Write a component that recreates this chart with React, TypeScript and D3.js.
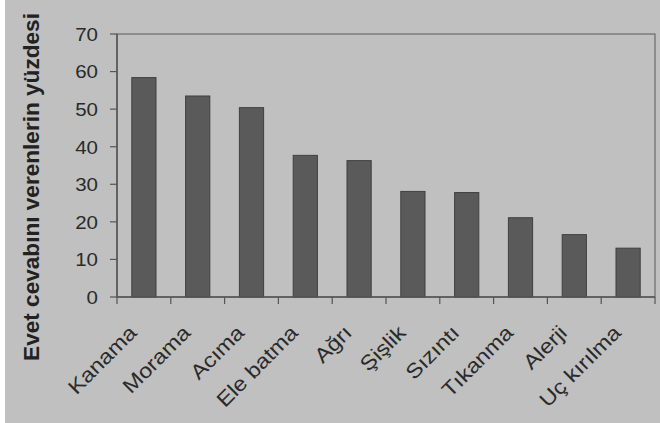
import React from "react";
import * as d3 from "d3";

const categories = ["Kanama", "Morama", "Acıma", "Ele batma", "Ağrı", "Şişlik", "Sızıntı", "Tıkanma", "Alerji", "Uç kırılma"];
const values = [58.4, 53.5, 50.4, 37.7, 36.3, 28.1, 27.8, 21.1, 16.6, 13.0];
const yTicks = [0, 10, 20, 30, 40, 50, 60, 70];
const yTitle = "Evet cevabını verenlerin yüzdesi";

const W = 660;
const H = 423;
const left = 117;
const right = 655;
const top = 34;
const bottom = 297;

export default function App() {
  const x = d3.scaleBand<string>().domain(categories).range([left, right]).paddingInner(0.55).paddingOuter(0.275);
  const xb = d3.scaleBand<string>().domain(categories).range([left, right]);
  const y = d3.scaleLinear().domain([0, 70]).range([bottom, top]);
  const bounds = xb.domain().map((c) => xb(c)!).concat([right]);
  const font = "'Liberation Sans', Arial, sans-serif";
  return (
    <div style={{ position: "fixed", left: 0, top: 0 }}>
      <svg width={W} height={H} style={{ display: "block" }}>
        <rect x={0} y={0} width={W} height={H} fill="#ffffff" />
        <rect x={5} y={0} width={W - 5} height={H} fill="#c0c0c0" />
        <rect x={left} y={top} width={right - left} height={bottom - top} fill="none" stroke="#6a6a6a" strokeWidth={1.2} />
        {categories.map((c, i) => (
          <rect
            key={c}
            x={x(c)!}
            y={y(values[i])}
            width={x.bandwidth()}
            height={bottom - y(values[i])}
            fill="#5a5a5a"
            stroke="#404040"
            strokeWidth={1}
          />
        ))}
        <line x1={left} x2={right} y1={bottom} y2={bottom} stroke="#555" strokeWidth={1.5} />
        <line x1={left} x2={left} y1={top} y2={bottom} stroke="#555" strokeWidth={1.5} />
        {yTicks.map((t) => (
          <g key={t}>
            <line x1={left - 7} x2={left} y1={y(t)} y2={y(t)} stroke="#555" strokeWidth={1.2} />
            <text x={98} y={y(t)} dy="0.36em" textAnchor="end" fontFamily={font} fontSize={19} fill="#2a2a2a" transform={`translate(98,0) scale(1.08,1) translate(-98,0)`}>
              {t}
            </text>
          </g>
        ))}
        {bounds.map((b, i) => (
          <line key={i} x1={b} x2={b} y1={bottom} y2={bottom + 7} stroke="#555" strokeWidth={1.2} />
        ))}
        {categories.map((c) => {
          const cx = xb(c)! + xb.bandwidth() / 2 - 6;
          const cy = 334;
          return (
            <text
              key={c}
              transform={`translate(${cx},${cy}) rotate(-45) scale(1.14,1)`}
              textAnchor="end"
              fontFamily={font}
              fontSize={20.5}
              fill="#2a2a2a"
            >
              {c}
            </text>
          );
        })}
        <text
          transform={`translate(39,187) rotate(-90)`}
          textAnchor="middle"
          fontFamily={font}
          fontSize={22.6}
          fontWeight="bold"
          fill="#222"
        >
          {yTitle}
        </text>
      </svg>
    </div>
  );
}
